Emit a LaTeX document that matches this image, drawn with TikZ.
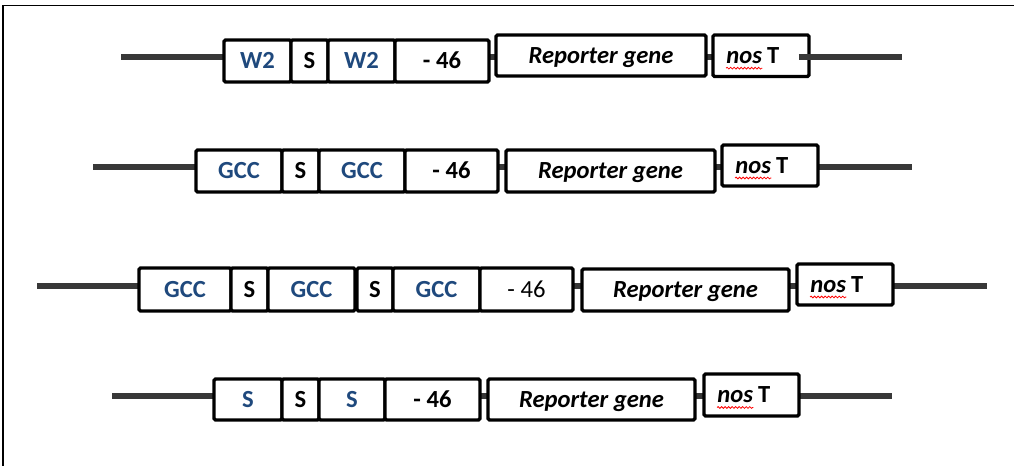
\documentclass[tikz,border=0pt]{standalone}
\usepackage{fontspec}
\setmainfont{Carlito}
\usepackage{tikz}
\usetikzlibrary{backgrounds, decorations.pathmorphing}
\definecolor{gccblue}{RGB}{31,73,125}
\newcommand{\figfont}{\fontsize{14pt}{16.5pt}\selectfont}

\begin{document}
\begin{tikzpicture}[x=0.02cm, y=-0.02cm, font=\figfont,
  cell/.style={draw, line width=1.9pt, fill=white, rounded corners=0.8pt, anchor=west, outer sep=0pt, inner sep=0pt, minimum height=0.84cm, text height=8.8pt, text depth=0pt, font=\figfont\bfseries},
  elem/.style={cell, text=gccblue},
  gene/.style={cell, font=\figfont\bfseries\itshape},
  dna/.style={line width=3.4pt, draw=black!78},
  nostxt/.style={inner sep=0pt, anchor=west, text height=8.8pt, text depth=0pt, font=\figfont\bfseries\itshape},
  wavy/.style={draw=red, line width=0.45pt, decorate, decoration={snake, amplitude=0.5pt, segment length=2pt}}]
  \useasboundingbox (0,0) rectangle (1014,466);
  \draw[line width=0.9pt] (3,466) -- (3,5.5) -- (1014,5.5);

  % construct 1: W2-S-W2
  \coordinate (l1) at (121,57);
  \coordinate (r1) at (902,57);
  \node[elem, minimum width=1.34cm] (a1) at (224,61) {W2};
  \node[cell, minimum width=0.74cm] (b1) at (291,61) {S};
  \node[elem, minimum width=1.34cm] (c1) at (328,61) {W2};
  \node[cell, minimum width=1.88cm] (d1) at (395,61) {- 46};
  \node[gene, minimum width=4.2cm, minimum height=0.82cm] (rep1) at (496,55.5) {Reporter gene};
  \node[cell, minimum width=1.92cm, minimum height=0.83cm] (nos1) at (713,55.7) {};
  \node[nostxt] (n1) at ([xshift=0.26cm]nos1.west) {nos};
  \node[nostxt, font=\figfont\bfseries] (t1) at ([xshift=2.5pt]n1.east) {T};
  \draw[wavy] ([yshift=-2.5pt]n1.south west) -- ([yshift=-2.5pt]n1.south east);

  % construct 2: GCC-S-GCC
  \coordinate (l2) at (93,167);
  \coordinate (r2) at (912,167);
  \node[elem, minimum width=1.72cm] (a2) at (196,171) {GCC};
  \node[cell, minimum width=0.74cm] (b2) at (282,171) {S};
  \node[elem, minimum width=1.72cm] (c2) at (319,171) {GCC};
  \node[cell, minimum width=1.86cm] (d2) at (405,171) {- 46};
  \node[gene, minimum width=4.18cm] (rep2) at (506,171) {Reporter gene};
  \node[cell, minimum width=1.92cm, minimum height=0.82cm] (nos2) at (722,165.5) {};
  \node[nostxt] (n2) at ([xshift=0.26cm]nos2.west) {nos};
  \node[nostxt, font=\figfont\bfseries] (t2) at ([xshift=2.5pt]n2.east) {T};
  \draw[wavy] ([yshift=-2.5pt]n2.south west) -- ([yshift=-2.5pt]n2.south east);

  % construct 3: GCC-S-GCC-S-GCC
  \coordinate (l3) at (37,286);
  \coordinate (r3) at (987,286);
  \node[elem, minimum width=1.84cm, minimum height=0.86cm] (a3) at (139,289.5) {GCC};
  \node[cell, minimum width=0.74cm, minimum height=0.86cm] (b3) at (231,289.5) {S};
  \node[elem, minimum width=1.74cm, minimum height=0.86cm] (c3) at (268,289.5) {GCC};
  \node[cell, minimum width=0.72cm, minimum height=0.86cm] (d3) at (357,289.5) {S};
  \node[elem, minimum width=1.74cm, minimum height=0.86cm] (e3) at (393,289.5) {GCC};
  \node[cell, minimum width=1.86cm, minimum height=0.86cm, font=\figfont\mdseries] (f3) at (480,289.5) {- 46};
  \node[gene, minimum width=4.14cm] (rep3) at (582,290) {Reporter gene};
  \node[cell, minimum width=1.92cm, minimum height=0.82cm] (nos3) at (797,284.5) {};
  \node[nostxt] (n3) at ([xshift=0.26cm]nos3.west) {nos};
  \node[nostxt, font=\figfont\bfseries] (t3) at ([xshift=2.5pt]n3.east) {T};
  \draw[wavy] ([yshift=-2.5pt]n3.south west) -- ([yshift=-2.5pt]n3.south east);

  % construct 4: S-S-S
  \coordinate (l4) at (112,396);
  \coordinate (r4) at (892,396);
  \node[elem, minimum width=1.36cm, minimum height=0.82cm] (a4) at (214,399.5) {S};
  \node[cell, minimum width=0.74cm, minimum height=0.82cm] (b4) at (282,399.5) {S};
  \node[elem, minimum width=1.32cm, minimum height=0.82cm] (c4) at (319,399.5) {S};
  \node[cell, minimum width=1.9cm, minimum height=0.82cm] (d4) at (385,399.5) {- 46};
  \node[gene, minimum width=4.14cm, minimum height=0.82cm] (rep4) at (488,399.5) {Reporter gene};
  \node[cell, minimum width=1.9cm] (nos4) at (704,395) {};
  \node[nostxt] (n4) at ([xshift=0.26cm]nos4.west) {nos};
  \node[nostxt, font=\figfont\bfseries] (t4) at ([xshift=2.5pt]n4.east) {T};
  \draw[wavy] ([yshift=-2.5pt]n4.south west) -- ([yshift=-2.5pt]n4.south east);

  % DNA backbone behind the boxes
  \begin{scope}[on background layer]
    \draw[dna] (l1) -- (l1 -| a1.west);
    \draw[dna] (d1.east |- l1) -- (rep1.west |- l1);
    \draw[dna] (rep1.east |- l1) -- (nos1.west |- l1);
    \draw[dna] (l2) -- (l2 -| a2.west);
    \draw[dna] (d2.east |- l2) -- (rep2.west |- l2);
    \draw[dna] (rep2.east |- l2) -- (nos2.west |- l2);
    \draw[dna] (nos2.east |- r2) -- (r2);
    \draw[dna] (l3) -- (l3 -| a3.west);
    \draw[dna] (f3.east |- l3) -- (rep3.west |- l3);
    \draw[dna] (rep3.east |- l3) -- (nos3.west |- l3);
    \draw[dna] (nos3.east |- r3) -- (r3);
    \draw[dna] (l4) -- (l4 -| a4.west);
    \draw[dna] (d4.east |- l4) -- (rep4.west |- l4);
    \draw[dna] (rep4.east |- l4) -- (nos4.west |- l4);
    \draw[dna] (nos4.east |- r4) -- (r4);
  \end{scope}
  \draw[dna] ([xshift=-0.2cm]nos1.east |- r1) -- (r1);
\end{tikzpicture}
\end{document}
